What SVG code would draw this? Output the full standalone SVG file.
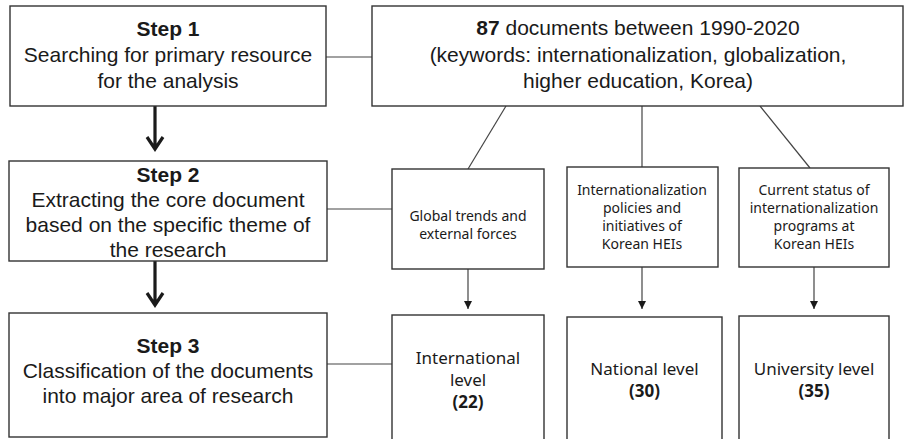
<svg xmlns="http://www.w3.org/2000/svg" width="904" height="439" viewBox="0 0 904 439">
<style>
.box{fill:#fff;stroke:#333;stroke-width:1.4}
.con{fill:none;stroke:#444;stroke-width:1.2}
.thick{fill:none;stroke:#1a1a1a;stroke-width:3.2}
.ta{font-family:"Liberation Sans",Arial,sans-serif;font-size:21px;fill:#1a1a1a;text-anchor:middle}
.tb{font-family:"Noto Sans","Open Sans",sans-serif;font-size:14px;fill:#1a1a1a;text-anchor:middle}
.tc{font-family:"Noto Sans","Open Sans",sans-serif;font-size:17px;fill:#1a1a1a;text-anchor:middle}
.b{font-weight:bold}
</style>
<defs>
<marker id="tri" viewBox="0 0 8 8" refX="8" refY="4" markerWidth="8" markerHeight="8" markerUnits="userSpaceOnUse" orient="auto">
<path d="M0,0 L8,4 L0,8 Z" fill="#1a1a1a"/>
</marker>
</defs>
<rect width="904" height="439" fill="#fff"/>
<g id="connectors">
<line class="con" x1="326" y1="57" x2="372" y2="57"/>
<line class="con" x1="327" y1="209" x2="392" y2="209"/>
<line class="con" x1="327" y1="364" x2="392" y2="364"/>
<line class="con" x1="506" y1="106" x2="468" y2="169"/>
<line class="con" x1="642" y1="106" x2="642" y2="167"/>
<line class="con" x1="760" y1="106" x2="810" y2="168"/>
<line class="con" x1="468" y1="269" x2="468" y2="309" marker-end="url(#tri)"/>
<line class="con" x1="642" y1="267" x2="642" y2="309" marker-end="url(#tri)"/>
<line class="con" x1="814" y1="267" x2="814" y2="309" marker-end="url(#tri)"/>
<path class="thick" d="M155,106 V149 M147,137 L155,149 L163,137"/>
<path class="thick" d="M155,261 V305 M147,293 L155,305 L163,293"/>
</g>
<g id="step1">
<rect class="box" x="10" y="6" width="316" height="100"/>
<text class="ta"><tspan class="b" x="168" y="36">Step 1</tspan><tspan x="168" y="62">Searching for primary resource</tspan><tspan x="168" y="88">for the analysis</tspan></text>
</g>
<g id="documents">
<rect class="box" x="372" y="6" width="531" height="100"/>
<text class="ta"><tspan x="638" y="35"><tspan class="b">87</tspan> documents between 1990-2020</tspan><tspan x="638" y="62">(keywords: internationalization, globalization,</tspan><tspan x="638" y="88">higher education, Korea)</tspan></text>
</g>
<g id="step2">
<rect class="box" x="9" y="161" width="318" height="100"/>
<text class="ta"><tspan class="b" x="168" y="182">Step 2</tspan><tspan x="168" y="207">Extracting the core document</tspan><tspan x="168" y="232">based on the specific theme of</tspan><tspan x="168" y="257">the research</tspan></text>
</g>
<g id="step3">
<rect class="box" x="9" y="313" width="318" height="124"/>
<text class="ta"><tspan class="b" x="168" y="353">Step 3</tspan><tspan x="168" y="378">Classification of the documents</tspan><tspan x="168" y="403">into major area of research</tspan></text>
</g>
<g id="global">
<rect class="box" x="392" y="169" width="152" height="100"/>
<text class="tb"><tspan x="468" y="221">Global trends and</tspan><tspan x="468" y="239">external forces</tspan></text>
</g>
<g id="policies">
<rect class="box" x="567" y="167" width="151" height="100"/>
<text class="tb"><tspan x="642" y="195">Internationalization</tspan><tspan x="642" y="213">policies and</tspan><tspan x="642" y="231">initiatives of</tspan><tspan x="642" y="249">Korean HEIs</tspan></text>
</g>
<g id="status">
<rect class="box" x="739" y="168" width="150" height="99"/>
<text class="tb"><tspan x="814" y="195">Current status of</tspan><tspan x="814" y="213">internationalization</tspan><tspan x="814" y="231">programs at</tspan><tspan x="814" y="249">Korean HEIs</tspan></text>
</g>
<g id="international">
<rect class="box" x="392" y="315" width="152" height="130"/>
<text class="tc"><tspan x="468" y="364">International</tspan><tspan x="468" y="386">level</tspan><tspan class="b" x="468" y="408">(22)</tspan></text>
</g>
<g id="national">
<rect class="box" x="567" y="317" width="155" height="130"/>
<text class="tc"><tspan x="644.5" y="375">National level</tspan><tspan class="b" x="644.5" y="397">(30)</tspan></text>
</g>
<g id="university">
<rect class="box" x="739" y="316" width="150" height="130"/>
<text class="tc"><tspan x="814" y="375">University level</tspan><tspan class="b" x="814" y="397">(35)</tspan></text>
</g>
</svg>
